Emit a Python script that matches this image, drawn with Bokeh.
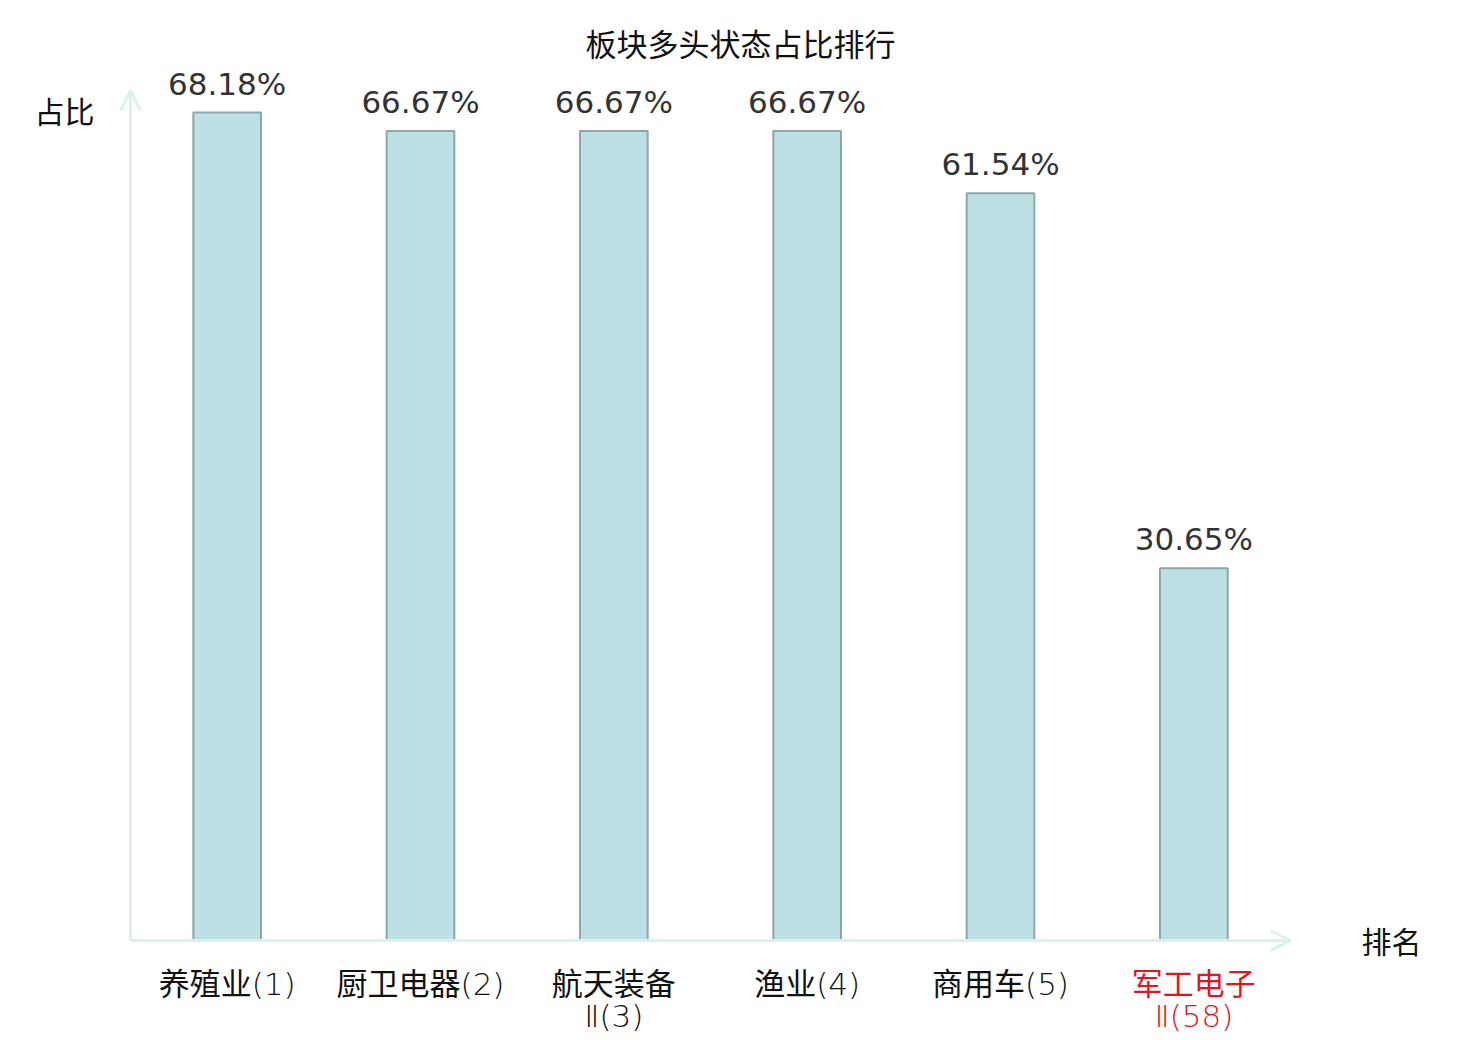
from bokeh.plotting import figure
from bokeh.models import ColumnDataSource, LabelSet, Label, Arrow, OpenHead, Range1d
from bokeh.core.properties import value
from bokeh.embed import file_html
from bokeh.resources import INLINE

# ---- data ----
categories = ["养殖业(1)", "厨卫电器(2)", "航天装备\nⅡ(3)", "渔业(4)", "商用车(5)", "军工电子\nⅡ(58)"]
values = [68.18, 66.67, 66.67, 66.67, 61.54, 30.65]
label_colors = ["#111111", "#111111", "#111111", "#111111", "#111111", "#e8141c"]
title_text = "板块多头状态占比排行"
y_name = "占比"
x_name = "排名"

CJK = "Noto Sans CJK SC"
TICK_FONT = "DejaVu Sans Light, DejaVu Sans ExtraLight, Noto Sans CJK SC"

n = len(categories)
ymax = 70

# layout (pixels): canvas size and the plotting area inside it
W, H = 1470, 1036
left, right, top, bottom = 130, 1290, 90, 940
xs = (right - left) / n            # px per category
ys = (bottom - top) / ymax         # px per unit
x0 = -0.5 - left / xs
x1 = n - 0.5 + (W - right) / xs
y0 = -(H - bottom) / ys
y1 = ymax + top / ys


def dx(px):
    return (px - left) / xs - 0.5


def dy(py):
    return (bottom - py) / ys


idx = list(range(n))
parts = [c.split("\n") for c in categories]
line1 = [pp[0] for pp in parts]
line2 = [pp[1] if len(pp) > 1 else "" for pp in parts]

src = ColumnDataSource(dict(
    x=idx,
    top=values,
    l1=line1,
    l2=line2,
    vtxt=[f"{v:.2f}%" for v in values],
    zero=[0] * n,
    col=label_colors,
))

p = figure(
    frame_width=W, frame_height=H,
    min_border_left=0, min_border_right=0, min_border_top=0, min_border_bottom=0,
    x_range=Range1d(x0, x1), y_range=Range1d(y0, y1),
    x_axis_type=None, y_axis_type=None,
    output_backend="svg", toolbar_location=None,
)
p.outline_line_color = None
p.background_fill_color = "white"
p.border_fill_color = "white"

p.vbar(x="x", top="top", width=0.35, bottom=0, source=src,
       fill_color="#bce0e3", line_color="#8ba7a9", line_width=2)

# axis arrows
axis_col = "#dbf1ee"
p.add_layout(Arrow(x_start=-0.5, y_start=0, x_end=-0.5, y_end=ymax,
                   line_color=axis_col, line_width=3,
                   end=OpenHead(size=20, line_color=axis_col, line_width=3)))
p.add_layout(Arrow(x_start=-0.5, y_start=0, x_end=n - 0.5, y_end=0,
                   line_color=axis_col, line_width=3,
                   end=OpenHead(size=20, line_color=axis_col, line_width=3)))

# value labels
p.add_layout(LabelSet(x="x", y="top", text="vtxt", source=src,
                      text_align="center", text_baseline="alphabetic",
                      y_offset=18, text_font=value("DejaVu Sans"),
                      text_font_size=value("31px"), text_color=value("#333333")))

# category labels (two centred lines)
p.add_layout(LabelSet(x="x", y="zero", text="l1", source=src,
                      text_align="center", text_baseline="middle",
                      y_offset=-43, text_font=value(TICK_FONT), text_font_size=value("31px"),
                      text_color="col"))
p.add_layout(LabelSet(x="x", y="zero", text="l2", source=src,
                      text_align="center", text_baseline="middle",
                      y_offset=-75, text_font=value(TICK_FONT), text_font_size=value("31px"),
                      text_color="col"))

# title and axis names
p.add_layout(Label(x=dx(740), y=dy(42), text=title_text,
                   text_align="center", text_baseline="middle", text_font=CJK,
                   text_font_size="31px", text_color="#111111"))
p.add_layout(Label(x=dx(64), y=dy(109), text=y_name,
                   text_align="center", text_baseline="middle", text_font=CJK,
                   text_font_size="30px", text_color="#111111"))
p.add_layout(Label(x=dx(1391), y=dy(939), text=x_name,
                   text_align="center", text_baseline="middle", text_font=CJK,
                   text_font_size="30px", text_color="#111111"))

open("out.html", "w").write(file_html(p, INLINE))
